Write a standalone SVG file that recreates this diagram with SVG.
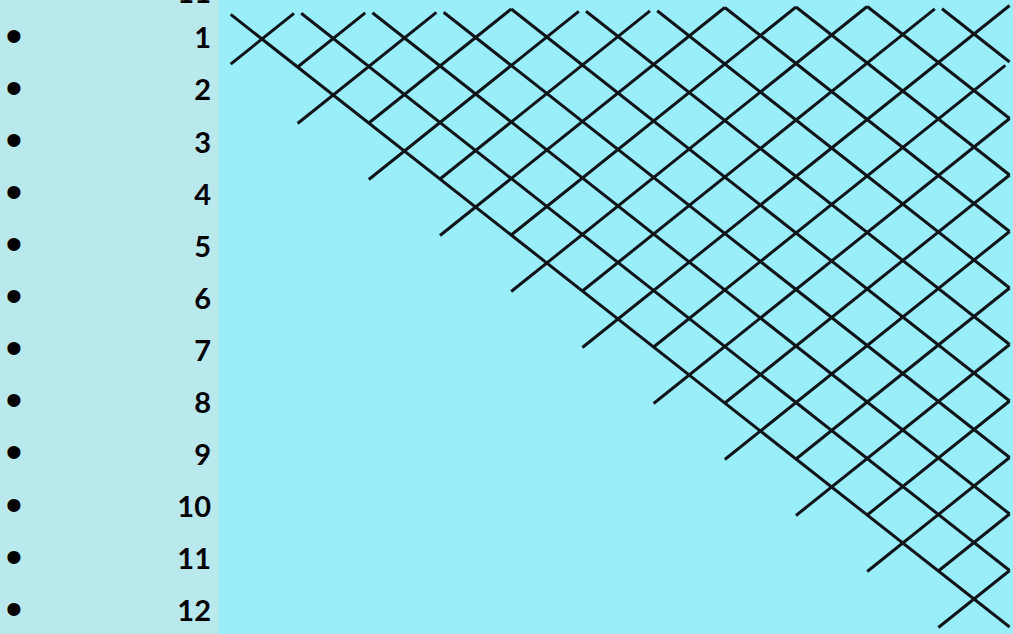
<svg xmlns="http://www.w3.org/2000/svg" width="1013" height="634" viewBox="0 0 1013 634">
<style>
.lat line{stroke:#101418;stroke-width:3;stroke-linecap:butt;fill:none}
.num{font-family:Lato,"Liberation Sans",sans-serif;font-weight:700;font-size:29px;fill:#000;text-anchor:end}
.bul{font-family:"Liberation Sans",Arial,sans-serif;font-size:48px;fill:#000;text-anchor:middle}
</style>
<rect x="0" y="0" width="1013" height="634" fill="#9aeefa"/>
<rect x="0" y="0" width="219" height="634" fill="#b9e8ed"/>
<g id="labels">
<text class="num" x="211" y="3">11</text>
<text class="bul" x="14" y="52">•</text><text class="num" x="211" y="48.3">1</text>
<text class="bul" x="14" y="104">•</text><text class="num" x="211" y="100.4">2</text>
<text class="bul" x="14" y="156">•</text><text class="num" x="211" y="152.5">3</text>
<text class="bul" x="14" y="208">•</text><text class="num" x="211" y="204.6">4</text>
<text class="bul" x="14" y="260">•</text><text class="num" x="211" y="256.7">5</text>
<text class="bul" x="14" y="312">•</text><text class="num" x="211" y="308.8">6</text>
<text class="bul" x="14" y="364">•</text><text class="num" x="211" y="360.9">7</text>
<text class="bul" x="14" y="416">•</text><text class="num" x="211" y="413">8</text>
<text class="bul" x="14" y="468">•</text><text class="num" x="211" y="465.1">9</text>
<text class="bul" x="14" y="521">•</text><text class="num" x="211" y="517.2">10</text>
<text class="bul" x="14" y="573">•</text><text class="num" x="211" y="569.3">11</text>
<text class="bul" x="14" y="625">•</text><text class="num" x="211" y="621.4">12</text>
</g>
<g id="lattice" class="lat">
<line x1="230.7" y1="14.4" x2="1009.6" y2="627"/>
<line x1="301.2" y1="13.3" x2="1009.6" y2="570.5"/>
<line x1="372.4" y1="12.8" x2="1009.6" y2="514"/>
<line x1="443.6" y1="12.3" x2="1009.6" y2="457.5"/>
<line x1="511.2" y1="9" x2="1009.6" y2="401"/>
<line x1="586" y1="11.3" x2="1009.6" y2="344.5"/>
<line x1="657.2" y1="10.8" x2="1009.6" y2="288"/>
<line x1="724.8" y1="7.5" x2="1009.6" y2="231.5"/>
<line x1="796" y1="7" x2="1009.6" y2="175"/>
<line x1="867.2" y1="6.5" x2="1009.6" y2="118.5"/>
<line x1="942" y1="8.8" x2="1009.6" y2="62"/>
<line x1="230.7" y1="64.1" x2="294" y2="13.4"/>
<line x1="297.6" y1="67" x2="365.2" y2="12.9"/>
<line x1="297.6" y1="123.5" x2="436.4" y2="12.4"/>
<line x1="368.8" y1="123" x2="511.2" y2="9"/>
<line x1="368.8" y1="179.5" x2="578.8" y2="11.4"/>
<line x1="440" y1="179" x2="650" y2="10.9"/>
<line x1="440" y1="235.5" x2="724.8" y2="7.5"/>
<line x1="511.2" y1="235" x2="796" y2="7"/>
<line x1="511.2" y1="291.5" x2="867.2" y2="6.5"/>
<line x1="582.4" y1="291" x2="934.8" y2="8.9"/>
<line x1="582.4" y1="347.5" x2="1009.6" y2="5.5"/>
<line x1="653.6" y1="347" x2="1005.3" y2="65.4"/>
<line x1="653.6" y1="403.5" x2="1009.6" y2="118.5"/>
<line x1="724.8" y1="403" x2="1009.6" y2="175"/>
<line x1="724.8" y1="459.5" x2="1009.6" y2="231.5"/>
<line x1="796" y1="459" x2="1009.6" y2="288"/>
<line x1="796" y1="515.5" x2="1009.6" y2="344.5"/>
<line x1="867.2" y1="515" x2="1009.6" y2="401"/>
<line x1="867.2" y1="571.5" x2="1009.6" y2="457.5"/>
<line x1="938.4" y1="571" x2="1009.6" y2="514"/>
<line x1="938.4" y1="627.5" x2="1009.6" y2="570.5"/>
</g>
</svg>
